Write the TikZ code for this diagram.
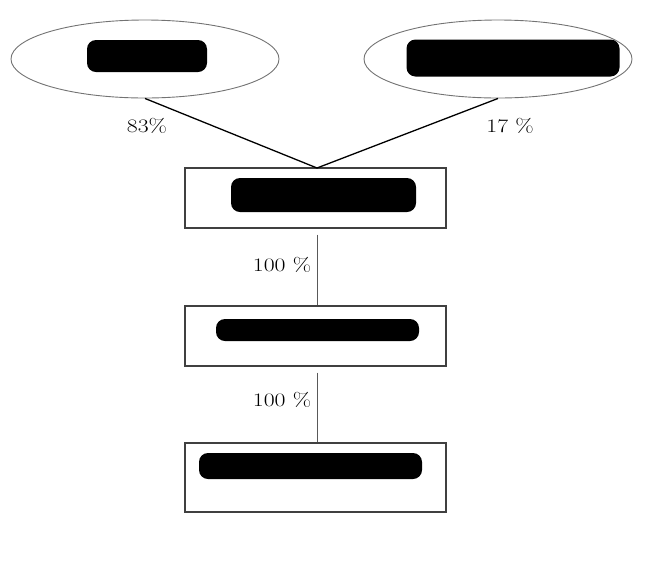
\documentclass[tikz,border=0pt]{standalone}
\usetikzlibrary{shapes.geometric}

\begin{document}
\begin{tikzpicture}[
    x=1pt, y=-1pt,
    source/.style={ellipse, draw=black!55, line width=.9pt,
      minimum width=268pt, minimum height=78pt, inner sep=0pt},
    stage/.style={rectangle, draw=black!75, line width=1.1pt,
      minimum width=261pt, minimum height=60pt, inner sep=0pt},
    redact/.style={rectangle, rounded corners=9pt, fill=black, inner sep=0pt},
    share/.style={font=\fontsize{19}{21}\selectfont, xscale=1.25, inner sep=0pt},
    feed/.style={line width=1.3pt},
    pass/.style={draw=black!65, line width=1pt, shorten <=6pt},
  ]
    \useasboundingbox (0,0) rectangle (666,582);
    % sources
    \node[source] (srcA) at (145,59) {};
    \node[source] (srcB) at (498,59) {};
    \node[redact, minimum width=120pt, minimum height=32pt] (srcAtxt) at (147,56) {};
    \node[redact, minimum width=213pt, minimum height=37pt] (srcBtxt) at (513,58) {};
    % stages
    \node[stage] (stage1) at (315.5,198) {};
    \node[stage] (stage2) at (315.5,336) {};
    \node[stage, minimum height=69pt] (stage3) at (315.5,477.5) {};
    \node[redact, minimum width=185pt, minimum height=34pt] (stage1txt) at (323.5,195) {};
    \node[redact, minimum width=203pt, minimum height=22pt] (stage2txt) at (317.5,330) {};
    \node[redact, minimum width=223pt, minimum height=26pt] (stage3txt) at (310.5,466) {};
    \coordinate (join) at (317,168);
    \draw[feed] (srcA.south) -- (join);
    \draw[feed] (srcB.south) -- (join);
    \draw[pass] (stage1.south -| join) -- (stage2.north -| join);
    \draw[pass] (stage2.south -| join) -- (stage3.north -| join);
    % shares
    \node[share] (shareA) at (147,126) {83\%};
    \node[share] (shareB) at (510,126) {17 \%};
    \node[share] (share1) at (282,265) {100 \%};
    \node[share] (share2) at (282,400) {100 \%};
\end{tikzpicture}
\end{document}
